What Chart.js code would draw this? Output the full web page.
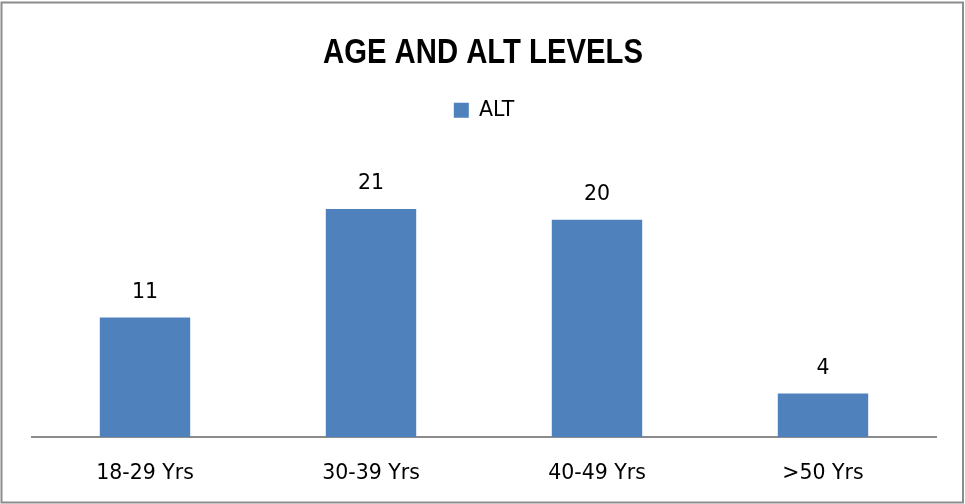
<!DOCTYPE html>
<html>
<head>
<meta charset="utf-8">
<script src="https://cdn.jsdelivr.net/npm/chart.js@4.4.1/dist/chart.umd.min.js"></script>
<style>
  html, body { margin: 0; padding: 0; background: #ffffff; }
  #wrap { position: relative; width: 965px; height: 504px; }
</style>
</head>
<body>
<div id="wrap"><canvas id="chart" width="965" height="504"></canvas></div>
<script>
// Age groups and number of subjects with raised ALT
const categories = ['18-29 Yrs', '30-39 Yrs', '40-49 Yrs', '>50 Yrs'];
const altCounts = [11, 21, 20, 4];
const seriesName = 'ALT';
const chartTitle = 'AGE AND ALT LEVELS';

const barBlue = '#4F81BD';
const frameGrey = '#8c8c8c';
const labelFont = { family: '"DejaVu Sans", sans-serif', size: 20.5 };

// Outer frame and a condensed bold heading
const framePlugin = {
  id: 'frame',
  afterDraw(chart) {
    const ctx = chart.ctx;
    ctx.save();
    ctx.strokeStyle = frameGrey;
    ctx.lineWidth = 2;
    ctx.strokeRect(1.5, 2.5, 961.5, 500);
    ctx.font = 'bold 35px "Liberation Sans", Arial, sans-serif';
    ctx.fillStyle = '#000000';
    ctx.textAlign = 'center';
    ctx.textBaseline = 'alphabetic';
    ctx.fillText(chartTitle, 483, 63, 320);
    ctx.restore();
  }
};

// Leave room between the legend and the plot area
const legendGap = {
  id: 'legendGap',
  beforeLayout(chart) {
    const lg = chart.legend;
    if (lg && !lg._gapPatched) {
      const fit = lg.fit;
      lg.fit = function () {
        fit.call(this);
        this.height += 35;
      };
      lg._gapPatched = true;
    }
  }
};

// Value printed above each bar
const valueLabels = {
  id: 'valueLabels',
  afterDatasetsDraw(chart) {
    const ctx = chart.ctx;
    ctx.save();
    ctx.font = `${labelFont.size}px ${labelFont.family}`;
    ctx.fillStyle = '#000000';
    ctx.textAlign = 'center';
    ctx.textBaseline = 'alphabetic';
    chart.getDatasetMeta(0).data.forEach((bar, i) => {
      ctx.fillText(String(chart.data.datasets[0].data[i]), bar.x, bar.y - 20);
    });
    ctx.restore();
  }
};

new Chart(document.getElementById('chart'), {
  type: 'bar',
  data: {
    labels: categories,
    datasets: [{
      label: seriesName,
      data: altCounts,
      backgroundColor: barBlue,
      borderWidth: 0,
      categoryPercentage: 1.0,
      barPercentage: 0.4
    }]
  },
  options: {
    responsive: false,
    animation: false,
    layout: { padding: { left: 32, right: 29, top: 90, bottom: 0 } },
    plugins: {
      title: { display: false },
      legend: {
        display: true,
        position: 'top',
        labels: {
          color: '#000000',
          font: labelFont,
          boxWidth: 15,
          boxHeight: 15,
          padding: 10
        }
      },
      tooltip: { enabled: false }
    },
    scales: {
      x: {
        grid: { display: false, drawTicks: false },
        border: { display: true, color: frameGrey, width: 2 },
        ticks: { color: '#000000', font: labelFont, padding: 24, maxRotation: 0 },
        afterFit(scale) { scale.height = 67; }
      },
      y: {
        display: false,
        min: 0,
        max: 25
      }
    }
  },
  plugins: [framePlugin, legendGap, valueLabels]
});
</script>
</body>
</html>
